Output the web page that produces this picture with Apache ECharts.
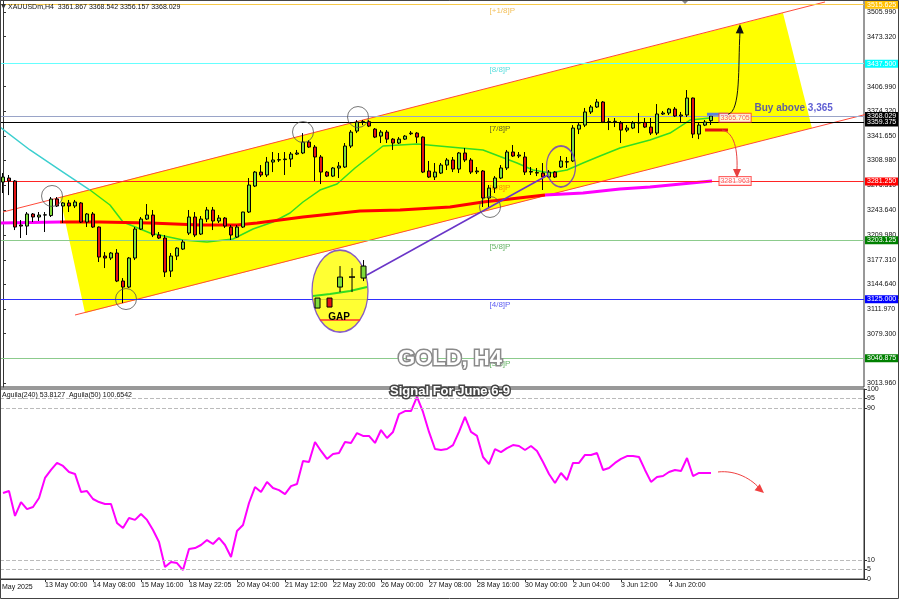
<!DOCTYPE html>
<html>
<head>
<meta charset="utf-8">
<script src="https://cdn.jsdelivr.net/npm/echarts@6.0.0/dist/echarts.min.js"></script>
<style>
html,body{margin:0;padding:0;background:#fff;}
#chart{width:900px;height:600px;}
</style>
</head>
<body>
<div id="chart"></div>
<script>
// ---------- data ----------
const tickIdx  = [7,15,23,31,39,47,55,63,71,79,87,95,103,111];
const tickText = ['13 May 00:00','14 May 08:00','15 May 16:00','18 May 22:05','20 May 04:00','21 May 12:00',
                  '22 May 20:00','26 May 00:00','27 May 08:00','28 May 16:00','30 May 00:00','2 Jun 04:00',
                  '3 Jun 12:00','4 Jun 20:00'];

const opens = [3280.5,3285.8,3281.8,3223.5,3222.1,3238.1,3234.1,3236.7,3236.0,3258.0,
3248.7,3252.7,3248.7,3252.7,3227.4,3238.1,3220.8,3182.3,3179.7,3186.3,
3149.2,3141.2,3179.7,3218.1,3231.4,3236.7,3210.2,3206.2,3162.4,3182.3,
3191.6,3212.8,3234.1,3211.5,3231.4,3243.4,3228.8,3232.7,3220.8,3207.5,
3220.8,3240.7,3275.2,3293.7,3289.8,3307.0,3309.7,3310.2,3311.0,3317.6,
3319.0,3333.5,3326.9,3313.7,3293.7,3288.4,3299.1,3300.4,3328.2,3348.1,
3360.0,3360.5,3350.7,3341.4,3346.7,3337.4,3332.2,3337.4,3344.5,3345.4,
3340.1,3295.1,3287.1,3292.4,3303.0,3309.7,3297.7,3319.0,3309.7,3294.0,
3295.1,3259.3,3272.5,3285.8,3299.1,3320.3,3315.0,3313.7,3293.7,3293.0,
3292.4,3287.1,3293.7,3300.4,3307.5,3308.4,3350.7,3356.0,3373.4,3380.0,
3386.6,3360.0,3360.5,3358.7,3349.4,3352.1,3358.7,3359.5,3353.4,3345.4,
3370.7,3372.0,3377.3,3368.0,3369.4,3391.9,3344.1,3356.0,3361.867];
const highs = [3292.4,3289.8,3283.0,3230.1,3240.7,3239.4,3240.7,3240.7,3260.6,3260.6,
3254.0,3256.7,3256.7,3254.0,3239.4,3240.7,3221.5,3187.6,3187.6,3191.6,
3153.1,3181.0,3220.8,3234.1,3251.3,3243.4,3214.2,3210.2,3186.3,3194.2,
3203.6,3243.4,3240.7,3235.4,3247.4,3247.4,3236.7,3234.1,3223.5,3223.5,
3241.0,3285.8,3295.1,3303.0,3313.7,3320.3,3319.0,3320.3,3320.3,3323.0,
3345.4,3336.2,3329.6,3316.3,3295.1,3300.4,3307.0,3332.2,3349.4,3362.7,
3362.7,3362.7,3352.1,3349.4,3349.4,3338.8,3340.1,3342.8,3348.1,3346.7,
3341.0,3308.4,3305.7,3305.7,3312.3,3313.7,3320.3,3325.6,3312.3,3300.4,
3296.4,3276.5,3288.4,3303.0,3323.0,3329.6,3320.3,3320.3,3300.4,3299.1,
3305.7,3296.4,3295.1,3315.0,3313.7,3356.0,3358.7,3378.7,3382.6,3390.6,
3387.9,3365.4,3365.4,3361.4,3356.0,3361.4,3372.0,3365.4,3365.4,3383.9,
3374.7,3378.7,3380.0,3373.4,3402.5,3392.5,3360.0,3362.7,3368.542];
const lows = [3265.9,3263.2,3216.8,3206.2,3210.2,3227.4,3228.8,3214.2,3234.1,3247.4,
3226.1,3240.7,3246.0,3226.1,3220.8,3219.5,3174.4,3166.4,3177.0,3147.8,
3120.0,3139.9,3177.0,3216.8,3230.1,3207.5,3204.9,3154.5,3154.5,3177.0,
3190.3,3210.2,3207.5,3210.2,3227.4,3216.8,3226.1,3219.5,3203.6,3206.2,
3219.5,3239.4,3273.8,3287.1,3287.1,3293.7,3307.0,3289.8,3300.4,3316.3,
3317.6,3325.6,3281.8,3277.8,3287.1,3287.1,3285.8,3299.1,3325.6,3345.4,
3356.0,3353.4,3338.8,3332.2,3332.2,3323.0,3330.9,3336.2,3342.8,3332.2,
3292.4,3285.8,3283.2,3291.1,3296.4,3293.7,3292.4,3307.0,3291.1,3291.1,
3247.4,3247.4,3265.9,3284.4,3296.4,3313.7,3312.3,3289.8,3289.8,3288.4,
3269.9,3285.8,3285.8,3299.1,3299.1,3307.0,3344.1,3353.4,3370.7,3378.7,
3358.7,3349.4,3353.4,3332.2,3346.7,3350.7,3345.4,3352.1,3342.8,3342.8,
3369.4,3369.4,3366.7,3360.0,3366.7,3338.8,3337.4,3354.7,3356.157];
const closes = [3287.1,3281.8,3220.8,3222.1,3238.1,3234.1,3236.7,3237.0,3258.0,3248.7,
3252.7,3248.7,3254.0,3227.4,3238.1,3220.8,3181.0,3179.7,3186.3,3149.2,
3141.2,3179.7,3218.1,3231.4,3236.7,3210.2,3206.2,3161.1,3182.3,3192.9,
3200.9,3234.1,3210.2,3231.4,3243.4,3228.8,3232.7,3222.1,3210.2,3220.8,
3240.7,3276.5,3293.7,3289.8,3307.0,3309.7,3310.2,3311.0,3317.6,3319.0,
3333.5,3326.9,3313.7,3293.7,3288.4,3299.1,3301.7,3328.2,3346.7,3360.0,
3360.5,3354.7,3340.1,3346.7,3337.4,3332.2,3337.4,3341.4,3345.4,3340.1,
3293.7,3287.1,3293.7,3303.0,3309.7,3297.7,3319.0,3309.7,3293.7,3295.1,
3259.3,3272.5,3285.8,3299.1,3320.3,3315.0,3316.3,3293.7,3294.5,3292.4,
3287.1,3293.7,3287.1,3308.4,3307.0,3352.1,3356.0,3373.4,3380.0,3386.6,
3360.0,3360.5,3361.0,3349.4,3352.1,3358.7,3359.5,3353.4,3345.4,3370.7,
3372.0,3377.3,3368.0,3369.4,3391.9,3344.1,3356.0,3360.0,3368.029];

// fast MA (bar position, price)
const maFastK = [-0.5,4.5,9.5,14.5,17.83,20,24.5,30,34,38.33,41.67,45,47.83,50,52.83,55.67,58.67,63.33,69,74.5,80,85.67,88.33,91.17,94,96.67,99.5,102.83,107.83,111.17,114.5,117.83];
const maFastP = [3353.5,3323.0,3296.4,3269.9,3250.0,3227.5,3212.9,3203.6,3200.9,3204.9,3218.2,3227.5,3239.4,3254.0,3269.9,3277.9,3299.1,3328.3,3330.9,3326.9,3323.0,3305.7,3296.4,3292.4,3296.4,3305.7,3315.0,3325.6,3336.2,3345.5,3362.7,3365.4];
// slow MA
const maSlowK = [-0.5,4.5,9.5,16.17,24.5,32.83,39,42.33,50,59.5,66.17,74.5,80,84.5,90.33,96.67,102.83,107.83,118.17];
const maSlowP = [3226.1,3226.8,3227.4,3227.4,3226.1,3223.5,3223.5,3226.1,3234.1,3242.1,3243.4,3247.4,3254.0,3258.0,3263.3,3265.9,3271.2,3273.9,3281.96];

// Aguila(240) indicator
const aguila = [45.3,46.3,33.2,40.5,36.8,37.9,42.6,53.2,57.4,61.1,
59.5,56.3,55.3,45.8,46.3,42.1,40.5,39.5,39.5,29.5,
26.8,32.1,31.1,34.2,31.1,25.8,19.5,6.3,8.9,8.4,
4.7,15.8,16.3,17.9,20.5,18.4,21.6,17.9,11.6,25.3,
28.4,40.0,48.4,45.8,51.1,47.9,46.8,44.7,48.9,50.0,
62.1,61.6,72.1,67.4,63.2,65.8,66.3,72.1,71.6,76.8,
75.3,75.3,71.6,78.4,74.2,77.4,86.8,88.4,88.4,95.8,
87.9,77.4,68.4,67.9,68.4,70.5,77.4,85.3,77.4,75.3,
64.2,60.5,68.4,66.8,68.9,70.5,70.0,67.9,70.0,67.4,
61.6,55.3,50.5,55.8,52.1,61.1,61.1,65.3,65.3,66.3,
57.4,58.4,61.1,63.2,64.7,64.7,64.2,57.4,51.1,53.7,
54.2,56.3,57.4,56.8,63.7,54.2,55.8,55.8,55.8];

// Murrey levels
const levelValues = [3515.625,3437.5,3359.375,3281.25,3203.125,3125.0,3046.875];
const levelNames  = ['[+1/8]P','[8/8]P','[7/8]P','[6/8]P','[5/8]P','[4/8]P','[3/8]P'];
const bidPrice = 3368.029;
const priceTicks = [3505.99,3473.32,3406.99,3374.32,3341.65,3308.98,3276.31,3243.64,3209.98,3177.31,3144.64,3111.97,3079.30,3013.96];
const indTicks = [0,5,10,90,95,100];
const indLevels = [5,10,90,95];

// channel annotation (bar position, price)
const upperK = [0, 137], upperP = [3240.7, 3519.3];
const lowerK = [12, 149.5], lowerP = [3104.1, 3381.7];
const chanK = [9.5, 130, 134.83, 13.67], chanP = [3260.6, 3504.7, 3352.2, 3106.8];
const circleK = [8.17, 20.5, 50, 59.17, 81.17], circleP = [3262.0, 3125.3, 3346.8, 3366.7, 3247.4];
const tagValues = [3365.705, 3281.963];

// ---------- styles ----------
const FONT = 'Liberation Sans, Arial, sans-serif';
const lineCol  = ['#F7C948','#66FFFF','#000000','#FF2424','#8CCB8C','#2F2FFF','#8CCB8C'];
const textCol  = ['#F0B030','#33D6D6','#333333','#FF6A00','#3FA03F','#3333EE','#3FA03F'];
const boxCol   = ['#FFC000','#00FFFF','#000000','#FF0000','#008000','#0000FF','#008000'];

const chart = echarts.init(document.getElementById('chart'));
const NCAT = 144;
const categories = Array.from({length: NCAT}, (_, i) => String(i));
const PMIN = 3008.64, PMAX = 3521.91;

const candleData = opens.map((o, i) => [o, closes[i], lows[i], highs[i]]);
const pairs = (ks, ps, a, b) => ks.slice(a, b).map((k, i) => [k, ps[a + i]]);

const levelMarks = [{yAxis: bidPrice, name: bidPrice.toFixed(3), lineStyle:{color:'#9AA4C8', width:1, type:'solid'},
  label:{backgroundColor:'#000', color:'#fff'}}].concat(levelValues.map((v, i) => ({
  yAxis: v, name: v.toFixed(3), lineStyle:{color: lineCol[i], width:1, type:'solid'},
  label:{backgroundColor: boxCol[i], color:'#fff'}
})));

const option = {
  animation: false,
  backgroundColor: '#ffffff',
  textStyle: {fontFamily: FONT},
  grid: [
    {left:0, top:0, width:864, height:387, show:true, borderColor:'#333', borderWidth:1},
    {left:0, top:389, width:864, height:190, show:true, borderColor:'#333', borderWidth:1}
  ],
  xAxis: [
    {type:'category', gridIndex:0, data:categories, show:false, boundaryGap:true},
    {type:'value', gridIndex:0, min:-0.5, max:143.5, show:false},
    {type:'category', gridIndex:1, data:categories, boundaryGap:true,
      axisLine:{lineStyle:{color:'#333'}},
      axisTick:{show:true, alignWithLabel:true, length:3, interval:(i)=>tickIdx.includes(i), lineStyle:{color:'#333'}},
      axisLabel:{interval:(i)=>tickIdx.includes(i), formatter:(v)=>{const j=tickIdx.indexOf(Number(v));return j>=0?tickText[j]:'';},
        align:'left', fontSize:7, color:'#111', margin:3, fontFamily:FONT}}
  ],
  yAxis: [
    {type:'value', gridIndex:0, position:'right', min:PMIN, max:PMAX, splitLine:{show:false},
      axisLine:{show:true, lineStyle:{color:'#333'}},
      axisTick:{show:true, length:3, customValues:priceTicks, lineStyle:{color:'#333'}},
      axisLabel:{customValues:priceTicks, formatter:(v)=>v.toFixed(3), fontSize:7, color:'#111', margin:3, fontFamily:FONT}},
    {type:'value', gridIndex:1, position:'right', min:0, max:100, splitLine:{show:false},
      axisLine:{show:true, lineStyle:{color:'#333'}},
      axisTick:{show:true, length:3, customValues:indTicks, lineStyle:{color:'#333'}},
      axisLabel:{customValues:indTicks, fontSize:7, color:'#111', margin:3, fontFamily:FONT}}
  ],
  series: [
    { // yellow channel fill
      type:'custom', xAxisIndex:1, yAxisIndex:0, z:1, silent:true, clip:false,
      data:[[0, 3300]],
      renderItem:(params, api) => ({type:'polygon', shape:{points: chanK.map((k, i) => api.coord([k, chanP[i]]))},
        style:{fill:'#FFFF00'}})
    },
    { // Murrey / price lines
      type:'line', xAxisIndex:0, yAxisIndex:0, data:[], z:2, silent:true,
      markLine:{symbol:'none', silent:true, animation:false, precision:3,
        label:{show:true, position:'end', distance:1, formatter:(p)=>p.name, fontSize:7,
               padding:[1,2,0,2], fontFamily:FONT},
        data: levelMarks}
    },
    { // level names
      type:'scatter', xAxisIndex:1, yAxisIndex:0, z:2, symbolSize:1, silent:true,
      itemStyle:{color:'rgba(0,0,0,0)'},
      data: levelValues.map((v, i) => ({value:[81, v], label:{color:textCol[i]}})),
      label:{show:true, position:'right', distance:0, offset:[0,6], fontSize:8, fontFamily:FONT,
             formatter:(p)=>levelNames[p.dataIndex]}
    },
    {type:'line', xAxisIndex:1, yAxisIndex:0, z:3, symbol:'none', clip:false, silent:true,
      lineStyle:{color:'#FF4A3A', width:1}, data: pairs(upperK, upperP, 0, 2)},
    {type:'line', xAxisIndex:1, yAxisIndex:0, z:3, symbol:'none', clip:false, silent:true,
      lineStyle:{color:'#FF4A3A', width:1}, data: pairs(lowerK, lowerP, 0, 2)},
    // fast MA: cyan then green
    {type:'line', xAxisIndex:1, yAxisIndex:0, z:4, symbol:'none', silent:true,
      lineStyle:{color:'#3CCFCF', width:1.5}, data: pairs(maFastK, maFastP, 0, 4)},
    {type:'line', xAxisIndex:1, yAxisIndex:0, z:4, symbol:'none', silent:true,
      lineStyle:{color:'#33DD22', width:1.5}, data: pairs(maFastK, maFastP, 3, maFastK.length)},
    // slow MA: magenta / red / magenta
    {type:'line', xAxisIndex:1, yAxisIndex:0, z:4, symbol:'none', silent:true,
      lineStyle:{color:'#FF00FF', width:3}, data: pairs(maSlowK, maSlowP, 0, 3)},
    {type:'line', xAxisIndex:1, yAxisIndex:0, z:4, symbol:'none', silent:true,
      lineStyle:{color:'#FF0000', width:3}, data: pairs(maSlowK, maSlowP, 2, 15)},
    {type:'line', xAxisIndex:1, yAxisIndex:0, z:4, symbol:'none', silent:true,
      lineStyle:{color:'#FF00FF', width:3}, data: pairs(maSlowK, maSlowP, 14, maSlowK.length)},
    { // candles
      type:'candlestick', xAxisIndex:0, yAxisIndex:0, z:5, barWidth:4, silent:true,
      itemStyle:{color:'#7FDB3A', color0:'#E21414', borderColor:'#000', borderColor0:'#000', borderWidth:1},
      data: candleData
    },
    { // purple connector
      type:'line', xAxisIndex:1, yAxisIndex:0, z:6, symbol:'none', silent:true,
      lineStyle:{color:'#6A35C8', width:1.5}, data:[[60.67, 3157.2],[90.83, 3289.8]]
    },
    { // highlight circles
      type:'scatter', xAxisIndex:1, yAxisIndex:0, z:6, silent:true, symbol:'circle', symbolSize:21,
      itemStyle:{color:'rgba(0,0,0,0)', borderColor:'#555', borderWidth:1},
      data: circleK.map((k, i) => [k, circleP[i]])
    },
    { // small purple ellipse
      type:'scatter', xAxisIndex:1, yAxisIndex:0, z:6, silent:true, symbol:'circle', symbolSize:[29,41],
      itemStyle:{color:'rgba(0,0,0,0)', borderColor:'#6A35C8', borderWidth:1.5},
      data:[[93, 3301.1]]
    },
    { // GAP ellipse
      type:'scatter', xAxisIndex:1, yAxisIndex:0, z:6, silent:true, symbol:'circle', symbolSize:[56,82],
      itemStyle:{color:'#FFFF00', borderColor:'#6A35C8', borderWidth:1.5},
      data:[[56.17, 3135.9]]
    },
    { // short blue / red markers
      type:'line', xAxisIndex:1, yAxisIndex:0, z:7, symbol:'none', silent:true,
      lineStyle:{color:'#5B7FE0', width:3}, data:[[117.33, 3370.3],[120.83, 3370.3]]
    },
    {type:'line', xAxisIndex:1, yAxisIndex:0, z:7, symbol:'none', silent:true,
      lineStyle:{color:'#E01010', width:3}, data:[[117, 3349.5],[120.83, 3349.5]]},
    { // price tags
      type:'scatter', xAxisIndex:1, yAxisIndex:0, z:8, symbolSize:1, silent:true,
      itemStyle:{color:'rgba(0,0,0,0)'},
      data: tagValues.map(v => [119.33, v]),
      label:{show:true, position:'right', distance:0, formatter:(p)=>p.value[1].toFixed(3), fontSize:7,
             color:'#FF3030', backgroundColor:'#fff', borderColor:'#FF3030', borderWidth:1, padding:[1,1,0,1], fontFamily:FONT}
    },
    { // buy text
      type:'scatter', xAxisIndex:1, yAxisIndex:0, z:8, symbolSize:1, silent:true,
      itemStyle:{color:'rgba(0,0,0,0)'},
      data:[[125.17, 3378.7]],
      label:{show:true, position:'right', distance:0, formatter:'Buy above 3,365', fontSize:10, fontWeight:'bold',
             color:'#3636C8', fontFamily:FONT}
    },
    { // indicator
      type:'line', xAxisIndex:2, yAxisIndex:1, z:4, symbol:'none', silent:true,
      lineStyle:{color:'#FF00FF', width:2}, data: aguila,
      markLine:{symbol:'none', silent:true, label:{show:false},
        lineStyle:{color:'#BBBBBB', width:1, type:'dashed'},
        data: indLevels.map(v => ({yAxis:v}))}
    }
  ]
};
chart.setOption(option);

// ---------- annotations ----------
const P = (k, p) => chart.convertToPixel({xAxisIndex:1, yAxisIndex:0}, [k, p]);
function arrowHead(tx, ty, fx, fy, color, L, W) {
  L = L || 8; W = W || 3.5;
  const a = Math.atan2(ty - fy, tx - fx), c = Math.cos(a), s = Math.sin(a);
  const bx = tx - L * c, by = ty - L * s;
  return {type:'polygon', z:120, shape:{points:[[tx,ty],[bx - W*s, by + W*c],[bx + W*s, by - W*c]]}, style:{fill:color}};
}
const g = [];
// black up arrow
{
  const S = P(120.83, 3370.3), T = P(122.83, 3487);
  g.push({type:'bezierCurve', z:120, shape:{x1:S[0], y1:S[1], cpx1:S[0]+13, cpy1:S[1]-3, cpx2:T[0]-2, cpy2:T[1]+40, x2:T[0], y2:T[1]+6},
    style:{stroke:'#111', lineWidth:1, fill:null}});
  g.push(arrowHead(T[0], T[1]-2, T[0]-0.3, T[1]+10, '#111', 9, 4));
}
// red down arrow
{
  const S = P(119.83, 3349.5), T = P(122.33, 3287.1);
  g.push({type:'bezierCurve', z:120, shape:{x1:S[0], y1:S[1], cpx1:S[0]+10, cpy1:S[1]+2, cpx2:T[0]+1, cpy2:S[1]+14, x2:T[0], y2:T[1]-7},
    style:{stroke:'#E84040', lineWidth:1, fill:null}});
  g.push(arrowHead(T[0], T[1]+1, T[0], T[1]-10, '#E84040', 9, 4));
}
// indicator arrow
{
  const Q = chart.convertToPixel({xAxisIndex:2, yAxisIndex:1}, [118, aguila[118]]);
  const S = [Q[0]+7, Q[1]-1], T = [S[0]+46, S[1]+21];
  g.push({type:'bezierCurve', z:120, shape:{x1:S[0], y1:S[1], cpx1:S[0]+18, cpy1:S[1]-2, cpx2:S[0]+34, cpy2:S[1]+7, x2:T[0]-3, y2:T[1]-3},
    style:{stroke:'#F04040', lineWidth:1, fill:null}});
  g.push(arrowHead(T[0], T[1], T[0]-7, T[1]-6, '#F04040', 9, 4));
}
// GAP inset
{
  const C = P(56.17, 3135.9), cx = C[0], cy = C[1];
  g.push({type:'polyline', z:110, shape:{points:[[cx-27,cy+5],[cx-10,cy+3],[cx+10,cy],[cx+27,cy-4]]}, style:{stroke:'#33DD22', lineWidth:2, fill:null}});
  g.push({type:'line', z:110, shape:{x1:cx-20, y1:cy+29, x2:cx+20, y2:cy+29}, style:{stroke:'#FF3030', lineWidth:1.5}});
  g.push({type:'rect', z:111, shape:{x:cx-25, y:cy+7, width:5, height:10}, style:{fill:'#7FDB3A', stroke:'#000', lineWidth:1}});
  g.push({type:'rect', z:111, shape:{x:cx-13, y:cy+7, width:5, height:9}, style:{fill:'#E21414', stroke:'#000', lineWidth:1}});
  g.push({type:'line', z:111, shape:{x1:cx, y1:cy-25, x2:cx, y2:cy+1}, style:{stroke:'#000', lineWidth:1}});
  g.push({type:'rect', z:112, shape:{x:cx-2.5, y:cy-14, width:5, height:10}, style:{fill:'#7FDB3A', stroke:'#000', lineWidth:1}});
  g.push({type:'line', z:111, shape:{x1:cx+12, y1:cy-23, x2:cx+12, y2:cy+1}, style:{stroke:'#000', lineWidth:1}});
  g.push({type:'line', z:111, shape:{x1:cx+9, y1:cy-14, x2:cx+15, y2:cy-14}, style:{stroke:'#000', lineWidth:1.5}});
  g.push({type:'line', z:111, shape:{x1:cx+23.5, y1:cy-31, x2:cx+23.5, y2:cy-10}, style:{stroke:'#000', lineWidth:1}});
  g.push({type:'rect', z:112, shape:{x:cx+21, y:cy-25, width:5, height:12}, style:{fill:'#7FDB3A', stroke:'#000', lineWidth:1}});
  g.push({type:'text', z:113, x:cx-1, y:cy+26, style:{text:'GAP', fontSize:10, fontWeight:'bold', fontFamily:FONT, fill:'#000', align:'center', verticalAlign:'middle'}});
}
// texts
g.push({type:'polygon', z:120, shape:{points:[[1,4],[6,4],[3.5,9]]}, style:{fill:'#333'}});
g.push({type:'text', z:120, x:8, y:7, style:{text:'XAUUSDm,H4  3361.867 3368.542 3356.157 3368.029', fontSize:7, fontFamily:FONT, fill:'#111', align:'left', verticalAlign:'middle'}});
g.push({type:'polygon', z:120, shape:{points:[[681,0],[689,0],[685,4]]}, style:{fill:'#888'}});
g.push({type:'text', z:120, x:2, y:395, style:{text:'Aguila(240) 53.8127  Aguila(50) 100.6542', fontSize:7, fontFamily:FONT, fill:'#111', align:'left', verticalAlign:'middle'}});
g.push({type:'text', z:120, x:2, y:587, style:{text:'May 2025', fontSize:7, fontFamily:FONT, fill:'#111', align:'left', verticalAlign:'middle'}});
g.push({type:'text', z:130, x:450, y:359, style:{text:'GOLD, H4', fontSize:22, fontWeight:'bold', fontFamily:FONT, fill:'#fff', stroke:'#8a8a8a', lineWidth:3, strokeFirst:true, align:'center', verticalAlign:'middle'}});
g.push({type:'text', z:130, x:450, y:391, style:{text:'Signal For June 6-9', fontSize:13, fontWeight:'bold', fontFamily:FONT, fill:'#fff', stroke:'#444', lineWidth:3, strokeFirst:true, align:'center', verticalAlign:'middle'}});
g.push({type:'rect', z:140, shape:{x:0.5, y:0.5, width:898, height:598}, style:{fill:null, stroke:'#444', lineWidth:1}});

chart.setOption({graphic: g});
</script>
</body>
</html>
